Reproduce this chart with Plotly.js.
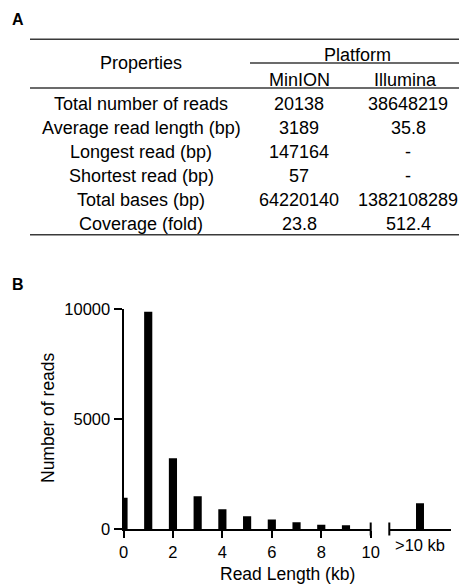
<!DOCTYPE html>
<html>
<head>
<meta charset="utf-8">
<script src="https://cdn.plot.ly/plotly-3.0.1.min.js"></script>
<style>html,body{margin:0;padding:0;background:#fff;}#chart{width:459px;height:585px;}</style>
</head>
<body>
<div id="chart"></div>
<script>
// ---- Table data (panel A) ----
const propertyNames = ["Total number of reads", "Average read length (bp)", "Longest read (bp)", "Shortest read (bp)", "Total bases (bp)", "Coverage (fold)"];
const minionValues = ["20138", "3189", "147164", "57", "64220140", "23.8"];
const illuminaValues = ["38648219", "35.8", "-", "-", "1382108289", "512.4"];
const platformNames = ["MinION", "Illumina"];

// ---- Histogram data (panel B) ----
const readLengthKb = [0, 1, 2, 3, 4, 5, 6, 7, 8, 9];
const readCounts = [1430, 9880, 3220, 1500, 910, 590, 450, 320, 210, 180];
const longCategory = [">10 kb"];
const longCounts = [1180];
const xTicks = [0, 2, 4, 6, 8, 10];
const yTicks = [0, 5000, 10000];
const yTickLabels = ["0", "5000", "10000"];

const W = 459, H = 585;
const px = x => x / W;
const py = y => 1 - y / H;
const FONT = "Liberation Sans, Arial, Helvetica, sans-serif";
const tableFont = {family: FONT, size: 18, color: "#000"};
const axisFont = {family: FONT, size: 16.5, color: "#000"};

const annotations = [];
function txt(t, x, y, font, extra) {
  annotations.push(Object.assign({text: t, x: px(x), y: py(y), xref: "paper", yref: "paper",
    xanchor: "center", yanchor: "middle", showarrow: false, font: font}, extra || {}));
}
txt("<b>A</b>", 18, 20, {family: FONT, size: 16, color: "#000"});
txt("<b>B</b>", 18, 284, {family: FONT, size: 16, color: "#000"});
const colX = [141, 299, 408];
txt("Properties", colX[0], 63, tableFont);
txt("Platform", 357, 55, tableFont);
txt(platformNames[0], colX[1], 80, tableFont);
txt(platformNames[1], colX[2] - 3, 80, tableFont);
propertyNames.forEach((name, i) => {
  const y = 104 + i * 24;
  txt(name, colX[0], y, tableFont);
  txt(minionValues[i], colX[1], y, tableFont);
  txt(illuminaValues[i], colX[2], y, tableFont);
});
txt("Read Length (kb)", 287, 574, {family: FONT, size: 17.5, color: "#000"});
txt("Number of reads", 48, 418, {family: FONT, size: 17.5, color: "#000"}, {textangle: -90});

const ruleColor = "#3a3a3a";
function hline(x0, x1, y, w) {
  return {type: "line", xref: "paper", yref: "paper", x0: px(x0), x1: px(x1), y0: py(y), y1: py(y),
    line: {color: ruleColor, width: w || 1.5}};
}
const shapes = [
  hline(30, 459, 39.3),
  hline(250, 459, 63),
  hline(30, 459, 88),
  hline(30, 459, 234.8),
  // axis break caps
  {type: "line", xref: "x domain", yref: "paper", x0: 1, x1: 1, y0: py(522.5), y1: py(535.5), line: {color: "#000", width: 2}},
  {type: "line", xref: "x2 domain", yref: "paper", x0: 0, x1: 0, y0: py(522.5), y1: py(535.5), line: {color: "#000", width: 2}}
];

const traces = [
  {type: "bar", x: readLengthKb, y: readCounts, xaxis: "x", yaxis: "y", width: 0.33,
   marker: {color: "#000", line: {width: 0}}, hoverinfo: "skip"},
  {type: "bar", x: longCategory, y: longCounts, xaxis: "x2", yaxis: "y", width: 0.13,
   marker: {color: "#000", line: {width: 0}}, hoverinfo: "skip"}
];

const layout = {
  width: W, height: H,
  margin: {l: 0, r: 0, t: 0, b: 0},
  paper_bgcolor: "#fff", plot_bgcolor: "rgba(0,0,0,0)",
  showlegend: false,
  font: axisFont,
  xaxis: {domain: [px(123.5), px(370.7)], range: [0, 10], anchor: "y",
    tickmode: "array", tickvals: xTicks, ticks: "outside", ticklen: 7, tickwidth: 2, tickcolor: "#000",
    showline: true, linewidth: 2, linecolor: "#000", showgrid: false, zeroline: false,
    tickfont: axisFont, fixedrange: true},
  xaxis2: {domain: [px(389.3), px(450.7)], range: [-0.5, 0.5], anchor: "y", type: "category",
    ticks: "", showline: true, linewidth: 2, linecolor: "#000", showgrid: false, zeroline: false,
    tickfont: axisFont, fixedrange: true},
  yaxis: {domain: [py(529.3), py(309)], range: [0, 10000], anchor: "x",
    tickmode: "array", tickvals: yTicks, ticktext: yTickLabels, ticks: "outside", ticklen: 8, tickwidth: 2, tickcolor: "#000",
    showline: true, linewidth: 2, linecolor: "#000", showgrid: false, zeroline: false,
    tickfont: axisFont, fixedrange: true},
  annotations: annotations,
  shapes: shapes
};

Plotly.newPlot("chart", traces, layout, {displayModeBar: false, staticPlot: true});
</script>
</body>
</html>
